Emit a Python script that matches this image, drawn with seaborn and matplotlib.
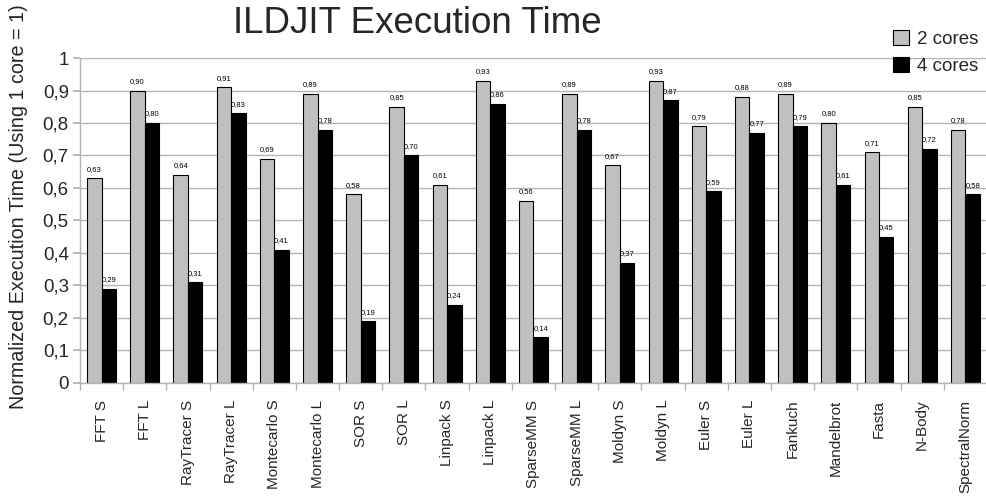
import numpy as np
import pandas as pd
import seaborn as sns
import matplotlib.pyplot as plt
from matplotlib.ticker import FuncFormatter, FixedLocator

#### Data
benchmarks = ["FFT S", "FFT L", "RayTracer S", "RayTracer L", "Montecarlo S",
              "Montecarlo L", "SOR S", "SOR L", "Linpack S", "Linpack L",
              "SparseMM S", "SparseMM L", "Moldyn S", "Moldyn L", "Euler S",
              "Euler L", "Fankuch", "Mandelbrot", "Fasta", "N-Body", "SpectralNorm"]
two_cores = [0.63, 0.90, 0.64, 0.91, 0.69, 0.89, 0.58, 0.85, 0.61, 0.93, 0.56,
             0.89, 0.67, 0.93, 0.79, 0.88, 0.89, 0.80, 0.71, 0.85, 0.78]
four_cores = [0.29, 0.80, 0.31, 0.83, 0.41, 0.78, 0.19, 0.70, 0.24, 0.86, 0.14,
              0.78, 0.37, 0.87, 0.59, 0.77, 0.79, 0.61, 0.45, 0.72, 0.58]
series = ["2 cores", "4 cores"]

df = pd.DataFrame({
    "benchmark": benchmarks * 2,
    "cores": [series[0]] * len(benchmarks) + [series[1]] * len(benchmarks),
    "time": two_cores + four_cores,
})

sns.set_theme(style="white")
plt.rcParams['font.family'] = ['Liberation Sans', 'DejaVu Sans']

fig = plt.figure(figsize=(9.87, 4.96), dpi=100)
ax = fig.add_axes([0.081, 0.228, 0.919, 0.655])

sns.barplot(data=df, x="benchmark", y="time", hue="cores",
            palette=["#c0c0c0", "black"], edgecolor="black", linewidth=0.8,
            width=0.67, saturation=1, ax=ax, legend=True)

comma = lambda v: f"{v:.2f}".replace(".", ",")
for cont in ax.containers:
    ax.bar_label(cont, labels=[comma(v) for v in cont.datavalues],
                 fontsize=5.5, padding=4, color="black")

def ytick(v, p):
    s = f"{v:.1f}".replace(".", ",")
    return s[:-2] if s.endswith(",0") else s

ax.set_ylim(0, 1)
ax.set_xlim(-0.5, len(benchmarks) - 0.5)
ax.set_yticks(np.arange(0, 1.01, 0.1))
ax.yaxis.set_major_formatter(FuncFormatter(ytick))
ax.tick_params(axis="y", labelsize=13.5, length=5, color="#b3b3b3", left=True, pad=3)
ax.set_xticks(range(len(benchmarks)))
ax.set_xticklabels(benchmarks, rotation=90, fontsize=11)
ax.tick_params(axis="x", which="major", length=0, pad=12)
ax.xaxis.set_minor_locator(FixedLocator(np.arange(-0.5, len(benchmarks), 1)))
ax.tick_params(axis="x", which="minor", length=5, color="#b3b3b3", bottom=True)

ax.yaxis.grid(True, color="#b3b3b3", linewidth=1)
ax.set_axisbelow(True)
for s in ["top", "right"]:
    ax.spines[s].set_visible(False)
for s in ["left", "bottom"]:
    ax.spines[s].set_color("#b3b3b3")
    ax.spines[s].set_linewidth(1)

ax.set_xlabel("")
ax.set_ylabel("")
fig.text(0.019, 0.583, "Normalized Execution Time (Using 1 core = 1)",
         rotation=90, ha="center", va="center", fontsize=14.2)
fig.text(0.423, 0.953, "ILDJIT Execution Time", ha="center", va="center",
         fontsize=26.5)

leg = ax.legend(loc="upper left", bbox_to_anchor=(0.897, 0.955),
                bbox_transform=fig.transFigure, frameon=False, fontsize=13.5,
                handlelength=0.85, handleheight=0.85, handletextpad=0.45,
                labelspacing=0.5, borderaxespad=0)

fig.savefig("out.png", dpi=100)
